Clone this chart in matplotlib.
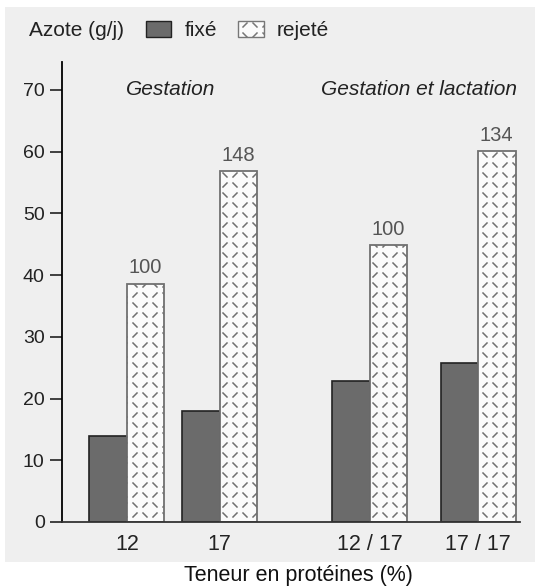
import numpy as np
import matplotlib.pyplot as plt
from matplotlib import hatch as mhatch
from matplotlib.path import Path
from matplotlib.patches import Rectangle

plt.rcParams['font.family'] = ['Liberation Sans', 'DejaVu Sans']
plt.rcParams['hatch.color'] = '#4a4a4a'
plt.rcParams['hatch.linewidth'] = 1.1

groups = ['12', '17', '12 / 17', '17 / 17']
fixe = [14, 18, 22.9, 25.8]
rejete = [38.6, 56.8, 44.9, 60.1]
indices = ['100', '148', '100', '134']
periods = ['Gestation', 'Gestation et lactation']


# small scattered dashes like the printed texture ('x' is reused for it)
class DashHatch(mhatch.HatchPatternBase):
    def __init__(self, hatch, density):
        self.n = int(hatch.count('x') * density * 5 / 6)
        self.num_vertices = self.n * self.n * 4 * 2

    def set_vertices_and_codes(self, vertices, codes):
        c = 1.0 / self.n
        d = 0.1 * c
        k = 0
        for i in range(self.n):
            for j in range(self.n):
                x0, y0 = i * c, j * c
                for cx, cy, sgn in [(0.25, 0.25, -1), (0.75, 0.75, -1),
                                    (0.75, 0.25, 1), (0.25, 0.75, 1)]:
                    x, y = x0 + cx * c, y0 + cy * c
                    vertices[k] = (x - d, y - sgn * d)
                    vertices[k + 1] = (x + d, y + sgn * d)
                    codes[k] = Path.MOVETO
                    codes[k + 1] = Path.LINETO
                    k += 2


mhatch._hatch_types = [DashHatch]

# group centres (bar width = 1)
pos = [1.73, 4.21, 8.21, 11.1]
w = 1.0

fig = plt.figure(figsize=(5.35, 5.87), dpi=100)
# scanned grey background
fig.patches.append(Rectangle((5 / 535, 1 - 562 / 587), 530 / 535, 555 / 587,
                             transform=fig.transFigure, facecolor='#efefef',
                             edgecolor='none', zorder=-10))

ax = fig.add_axes([62 / 535, 65 / 587, 458 / 535, 460 / 587])
ax.set_facecolor('none')

for i in range(len(groups)):
    ax.bar(pos[i] - w / 2, fixe[i], w, color='#6b6b6b', edgecolor='#222222', linewidth=1.2)
    ax.bar(pos[i] + w / 2, rejete[i], w, color='#fbfbfb', edgecolor='#707070',
           linewidth=1.3, hatch='x')
    ax.text(pos[i] + w / 2, rejete[i] + 1.0, indices[i], ha='center', va='bottom',
            fontsize=14.5, color='#555555')

ax.set_xlim(0, 12.22)
ax.set_ylim(0, 74.5)
ax.set_yticks(range(0, 71, 10))
ax.set_xticks(pos)
ax.set_xticklabels(groups)
ax.tick_params(axis='y', length=9, width=1.2, labelsize=14, pad=3.5, colors='#222222')
ax.tick_params(axis='x', length=0, labelsize=15.5, pad=9, colors='#222222')
for s in ['top', 'right']:
    ax.spines[s].set_visible(False)
ax.spines['left'].set_linewidth(1.3)
ax.spines['bottom'].set_linewidth(1.3)
ax.spines['bottom'].set_color('#333333')

ax.text(2.91, 70, periods[0], ha='center', va='center', fontsize=15, style='italic', color='#222222')
ax.text(9.52, 70, periods[1], ha='center', va='center', fontsize=15, style='italic', color='#222222')

fig.text(298 / 535, 1 - 575 / 587, 'Teneur en protéines (%)', fontsize=15.5,
         ha='center', va='center', color='#111111')

# legend row
fig.text(29 / 535, 1 - 30 / 587, 'Azote (g/j)', fontsize=15, va='center', color='#222222')
fig.patches.append(Rectangle((146 / 535, 1 - 37 / 587), 25 / 535, 16 / 587,
                             transform=fig.transFigure, facecolor='#6b6b6b',
                             edgecolor='#222222', linewidth=1))
fig.text(185 / 535, 1 - 30 / 587, 'fixé', fontsize=15, va='center', color='#222222')
fig.patches.append(Rectangle((238 / 535, 1 - 37 / 587), 26 / 535, 16 / 587,
                             transform=fig.transFigure, facecolor='#fbfbfb',
                             edgecolor='#777777', linewidth=1, hatch='x'))
fig.text(277 / 535, 1 - 30 / 587, 'rejeté', fontsize=15, va='center', color='#222222')

plt.savefig('out.png', dpi=100)
